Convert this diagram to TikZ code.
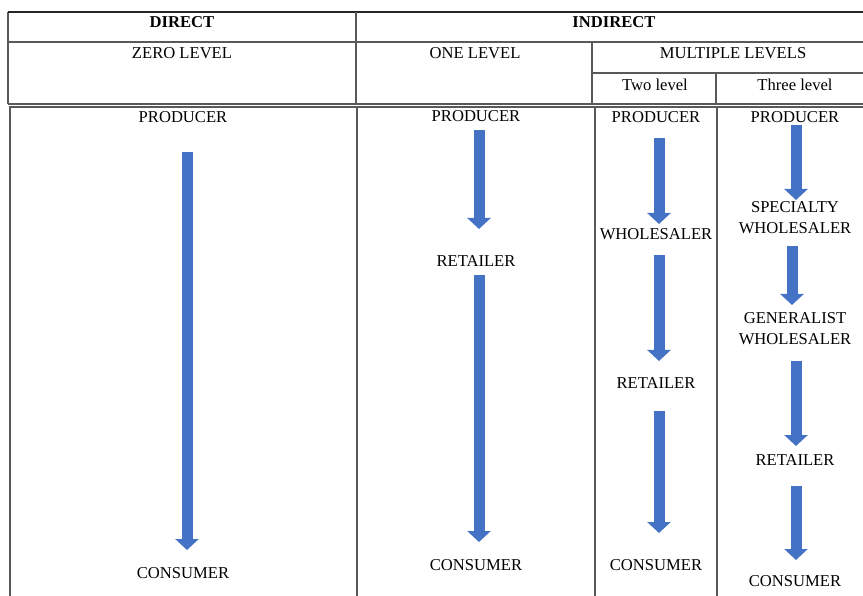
\documentclass[tikz,border=0pt]{standalone}
\usepackage{fontspec}
\setmainfont{Liberation Serif}
\usetikzlibrary{arrows.meta}

\definecolor{arrowblue}{HTML}{4472C4}
\tikzset{
  rule/.style={draw=black!65, line width=1.2pt},
  lbl/.style={font=\fontsize{16.6}{21}\selectfont, align=center, inner sep=0pt},
  hdr/.style={lbl, font=\fontsize{16.6}{21}\selectfont\bfseries},
  flow/.style={draw=arrowblue, line width=11pt, -{Triangle[width=23pt,length=11pt]}},
}

\begin{document}
\begin{tikzpicture}[x=1pt, y=-1pt]
\useasboundingbox (0,0) rectangle (863,596);

% header table
\draw[rule] (8,104) -- (8,12);
\draw[rule, draw=black!85] (8,12) -- (863,12);
\draw[rule] (8,42) -- (863,42);
\draw[rule] (592,73) -- (863,73);
\draw[rule] (8,104) -- (863,104);
\draw[rule] (356,12) -- (356,104);
\draw[rule] (592,42) -- (592,104);
\draw[rule] (716,73) -- (716,104);

% body table
\draw[rule] (10,596) -- (10,107) -- (863,107);
\foreach \x in {357,595,717} {
 \draw[rule] (\x,107) -- (\x,596);
}

\node[hdr] (direct) at (182,22) {DIRECT};
\node[hdr] (indirect) at (614,22) {INDIRECT};
\node[lbl] (zero) at (182,53) {ZERO LEVEL};
\node[lbl] (one) at (475,53) {ONE LEVEL};
\node[lbl] (multi) at (733,53) {MULTIPLE LEVELS};
\node[lbl] (two) at (655,85) {Two level};
\node[lbl] (three) at (795,85) {Three level};

% zero level
\node[lbl] (prodA) at (183,117) {PRODUCER};
\node[lbl] (consA) at (183,573) {CONSUMER};
\draw[flow, shorten <=35pt, shorten >=23pt] ([xshift=4pt]prodA.center) -- ([xshift=4pt]consA.center);

% one level
\node[lbl] (prodB) at (476,116) {PRODUCER};
\node[lbl] (retB) at (476,261) {RETAILER};
\node[lbl] (consB) at (476,565) {CONSUMER};
\draw[flow, shorten <=14pt, shorten >=32pt] ([xshift=3pt]prodB.center) -- ([xshift=3pt]retB.center);
\draw[flow, shorten <=14pt, shorten >=23pt] ([xshift=3pt]retB.center) -- ([xshift=3pt]consB.center);

% two level
\node[lbl] (prodC) at (656,117) {PRODUCER};
\node[lbl] (wholeC) at (656,234) {WHOLESALER};
\node[lbl] (retC) at (656,383) {RETAILER};
\node[lbl] (consC) at (656,565) {CONSUMER};
\draw[flow, shorten <=21pt, shorten >=10pt] ([xshift=3pt]prodC.center) -- ([xshift=3pt]wholeC.center);
\draw[flow, shorten <=21pt, shorten >=22pt] ([xshift=3pt]wholeC.center) -- ([xshift=3pt]retC.center);
\draw[flow, shorten <=28pt, shorten >=32pt] ([xshift=3pt]retC.center) -- ([xshift=3pt]consC.center);

% three level
\node[lbl] (prodD) at (795,117) {PRODUCER};
\node[lbl] (specD) at (795,217.5) {SPECIALTY\\WHOLESALER};
\node[lbl] (genD) at (795,329) {GENERALIST\\WHOLESALER};
\node[lbl] (retD) at (795,460) {RETAILER};
\node[lbl] (consD) at (795,581) {CONSUMER};
\draw[flow, shorten <=8pt, shorten >=17.5pt] ([xshift=1pt]prodD.center) -- ([xshift=1pt]specD.center);
\draw[flow, shorten <=28.5pt, shorten >=24pt] ([xshift=-3pt]specD.center) -- ([xshift=-3pt]genD.center);
\draw[flow, shorten <=32pt, shorten >=14pt] ([xshift=1pt]genD.center) -- ([xshift=1pt]retD.center);
\draw[flow, shorten <=26pt, shorten >=21pt] ([xshift=1pt]retD.center) -- ([xshift=1pt]consD.center);
\end{tikzpicture}
\end{document}
